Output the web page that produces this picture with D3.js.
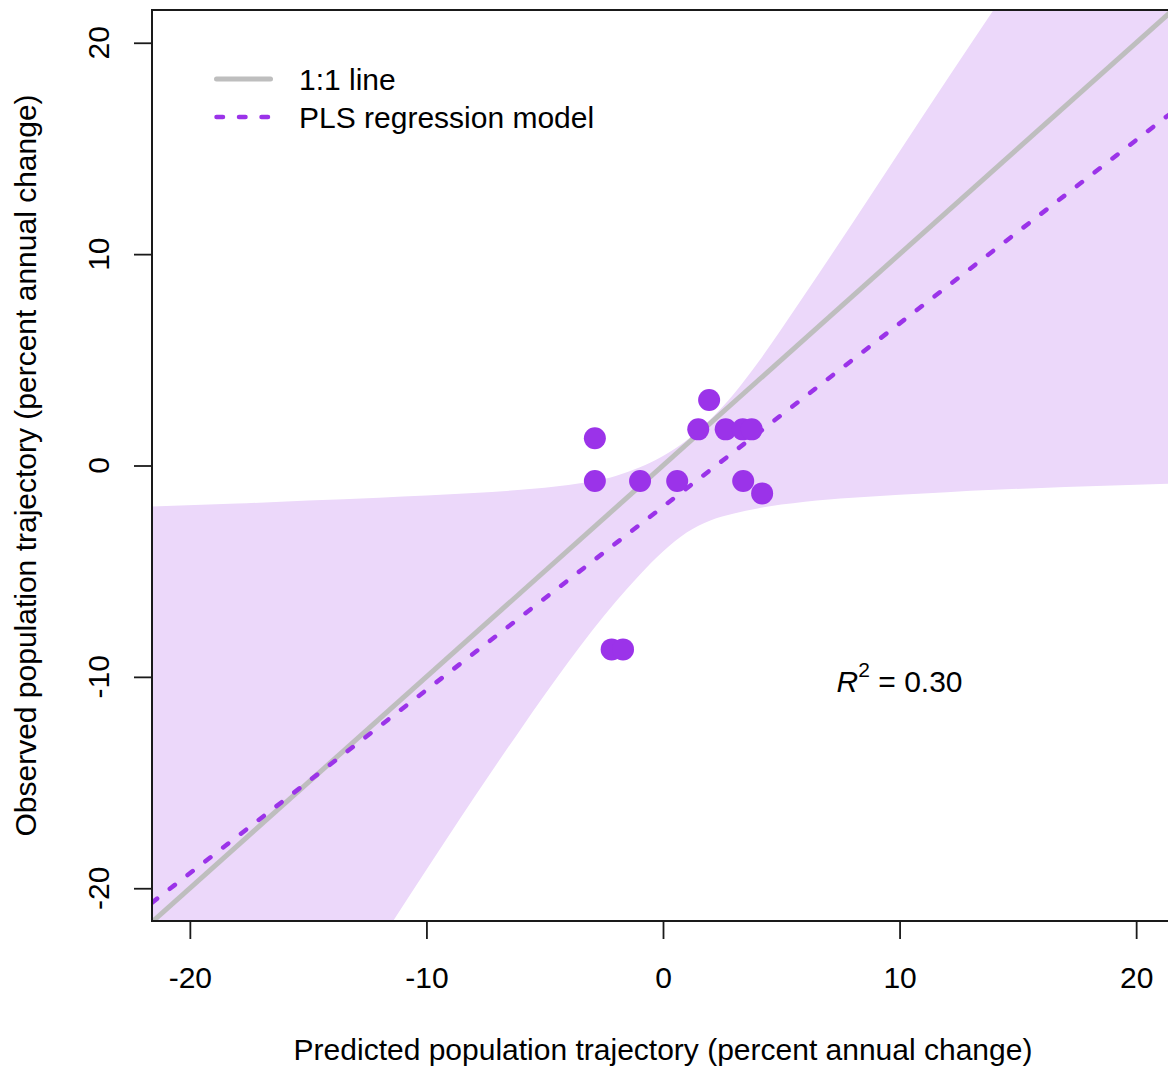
<!DOCTYPE html>
<html>
<head>
<meta charset="utf-8">
<script src="https://cdn.jsdelivr.net/npm/d3@7"></script>
<style>
    body { margin: 0; background: #fff; }
    svg { display: block; font-family: "Liberation Sans", Arial, Helvetica, sans-serif; }
</style>
</head>
<body>
<div id="scatterPlot"></div>
<script>
// observed vs predicted points
const predicted = [-2.88, -2.88, -0.97, 0.60, 1.95, 1.49, 2.65, 3.37, 3.75, 3.39, 4.19, -2.17, -1.69];
const observed  = [1.29, -0.73, -0.73, -0.73, 3.10, 1.71, 1.71, 1.71, 1.71, -0.73, -1.32, -8.70, -8.70];

// 1:1 line and PLS fit (end points)
const oneToOneX = [-21.6, 21.6];
const oneToOneY = [-21.6, 21.6];
const fitX = [-21.6, 21.6];
const fitY = [-20.68, 16.78];

// confidence band
const bandX  = [-21.6, -18, -15, -12, -10, -8, -6, -4, -3, -2, -1, 0, 1, 2, 3, 4, 5, 6, 8, 10, 12, 14, 16, 18, 21.6];
const bandLo = [-39.08, -32.89, -27.73, -22.57, -19.13, -15.73, -12.45, -9.30, -7.82, -6.45, -5.19, -4.07, -3.17, -2.60, -2.27, -2.03, -1.85, -1.71, -1.52, -1.38, -1.26, -1.15, -1.06, -0.98, -0.85];
const bandHi = [-1.94, -1.80, -1.66, -1.52, -1.42, -1.30, -1.15, -0.92, -0.76, -0.50, -0.10, 0.45, 1.20, 2.18, 3.40, 4.85, 6.45, 8.10, 11.45, 14.85, 18.25, 21.6, 25.0, 28.4, 34.5];

const xTicks = [-20, -10, 0, 10, 20];
const yTicks = [-20, -10, 0, 10, 20];

const legendLabels = ["1:1 line", "PLS regression model"];

function scatterPlot() {
    const width = 1168, height = 1070;
    const box = { left: 152, right: 1174, top: 10, bottom: 921 };
    const purple = "#9b33e9";
    const fontSize = 30;

    const svg = d3.select("#scatterPlot")
        .append("svg")
        .attr("width", width)
        .attr("height", height);

    const x = d3.scaleLinear().domain([-21.6, 21.6]).range([box.left, box.right]);
    const y = d3.scaleLinear().domain([-21.55, 21.55]).range([box.bottom, box.top]);

    svg.append("clipPath")
        .attr("id", "plotClip")
        .append("rect")
        .attr("x", box.left)
        .attr("y", box.top)
        .attr("width", box.right - box.left)
        .attr("height", box.bottom - box.top);

    const plot = svg.append("g").attr("clip-path", "url(#plotClip)");

    // band
    const band = bandX.map((d, i) => ({ x: d, lo: bandLo[i], hi: bandHi[i] }));
    plot.append("path")
        .datum(band)
        .attr("fill", "#ecd8fa")
        .attr("d", d3.area()
            .curve(d3.curveMonotoneX)
            .x(d => x(d.x))
            .y0(d => y(d.lo))
            .y1(d => y(d.hi)));

    // 1:1 line
    plot.append("path")
        .datum(oneToOneX.map((d, i) => [d, oneToOneY[i]]))
        .attr("fill", "none")
        .attr("stroke", "#bebebe")
        .attr("stroke-width", 5)
        .attr("d", d3.line().x(d => x(d[0])).y(d => y(d[1])));

    // PLS fit
    plot.append("path")
        .datum(fitX.map((d, i) => [d, fitY[i]]))
        .attr("fill", "none")
        .attr("stroke", purple)
        .attr("stroke-width", 4.5)
        .attr("stroke-linecap", "round")
        .attr("stroke-dasharray", "6.5 16")
        .attr("d", d3.line().x(d => x(d[0])).y(d => y(d[1])));

    // points
    plot.selectAll(".dot")
        .data(predicted.map((d, i) => [d, observed[i]]))
        .enter().append("circle")
        .attr("class", "dot")
        .attr("cx", d => x(d[0]))
        .attr("cy", d => y(d[1]))
        .attr("r", 11)
        .attr("fill", purple);

    // box
    svg.append("rect")
        .attr("x", box.left)
        .attr("y", box.top)
        .attr("width", box.right - box.left)
        .attr("height", box.bottom - box.top)
        .attr("fill", "none")
        .attr("stroke", "#1a1a1a")
        .attr("stroke-width", 2);

    // x axis
    const xAxis = svg.append("g")
        .attr("transform", `translate(0, ${box.bottom})`)
        .call(d3.axisBottom(x).tickValues(xTicks).tickSize(18).tickFormat(d => `${d}`));
    xAxis.select(".domain").remove();
    xAxis.selectAll("line").attr("stroke", "#1a1a1a").attr("stroke-width", 1.8);
    xAxis.selectAll("text")
        .attr("y", 67)
        .attr("dy", null)
        .attr("fill", "#000")
        .style("font-size", fontSize + "px");

    // y axis
    const yAxis = svg.append("g")
        .attr("transform", `translate(${box.left}, 0)`)
        .call(d3.axisLeft(y).tickValues(yTicks).tickSize(18).tickFormat(""));
    yAxis.select(".domain").remove();
    yAxis.selectAll("line").attr("stroke", "#1a1a1a").attr("stroke-width", 1.8);

    svg.selectAll(".ylab")
        .data(yTicks)
        .enter().append("text")
        .attr("class", "ylab")
        .attr("transform", d => `translate(109, ${y(d)}) rotate(-90)`)
        .attr("text-anchor", "middle")
        .style("font-size", fontSize + "px")
        .text(d => `${d}`);

    // axis titles
    svg.append("text")
        .attr("x", x(0))
        .attr("y", 1060)
        .attr("text-anchor", "middle")
        .style("font-size", fontSize + "px")
        .text("Predicted population trajectory (percent annual change)");

    svg.append("text")
        .attr("transform", `translate(36, ${(box.top + box.bottom) / 2}) rotate(-90)`)
        .attr("text-anchor", "middle")
        .style("font-size", fontSize + "px")
        .text("Observed population trajectory (percent annual change)");

    // legend
    const legend = svg.append("g");
    legend.append("line")
        .attr("x1", 216.5).attr("x2", 270.5)
        .attr("y1", 79).attr("y2", 79)
        .attr("stroke", "#bebebe")
        .attr("stroke-width", 5)
        .attr("stroke-linecap", "round");
    legend.append("line")
        .attr("x1", 216.5).attr("x2", 271)
        .attr("y1", 117).attr("y2", 117)
        .attr("stroke", purple)
        .attr("stroke-width", 4.5)
        .attr("stroke-linecap", "round")
        .attr("stroke-dasharray", "6.5 16");
    legend.selectAll("text")
        .data(legendLabels)
        .enter().append("text")
        .attr("x", 299)
        .attr("y", (d, i) => 90 + i * 37.5)
        .style("font-size", fontSize + "px")
        .text(d => d);

    // R squared
    const r2 = svg.append("text")
        .attr("x", x(10))
        .attr("y", 692)
        .attr("text-anchor", "middle")
        .style("font-size", fontSize + "px");
    r2.append("tspan").attr("font-style", "italic").text("R");
    r2.append("tspan").attr("dy", -15).style("font-size", "21px").text("2");
    r2.append("tspan").attr("dy", 15).text(" = 0.30");
}

document.addEventListener("DOMContentLoaded", function () {
    scatterPlot();
});
</script>
</body>
</html>
